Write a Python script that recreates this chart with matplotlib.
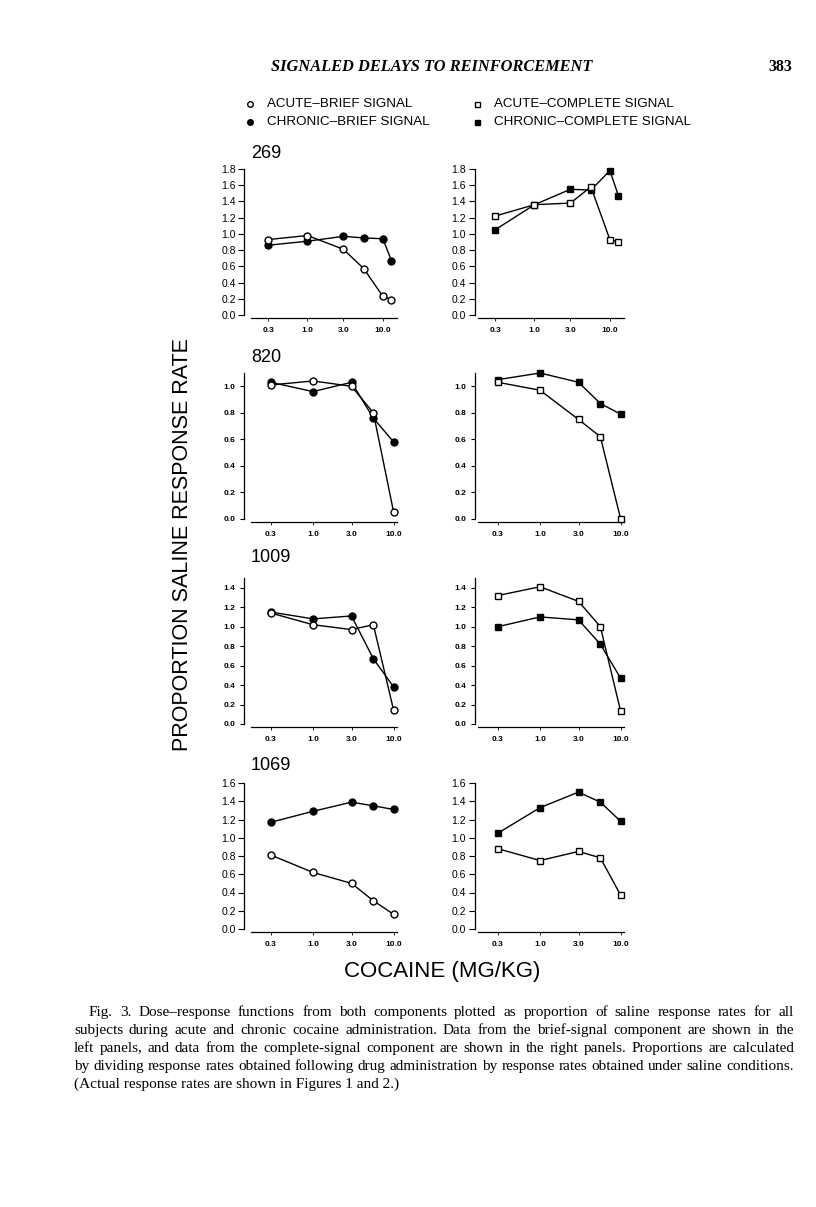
import numpy as np
import matplotlib.pyplot as plt
from matplotlib.lines import Line2D

# doses (mg/kg); subject 269 got an extra 13 mg/kg dose
dose_269 = [0.3, 1.0, 3.0, 5.6, 10.0, 13.0]
dose = [0.3, 1.0, 3.0, 5.6, 10.0]
subjects = ["269", "820", "1009", "1069"]

# left panels: brief-signal component
acute_brief_269 = [0.93, 0.98, 0.81, 0.57, 0.23, 0.19]
chronic_brief_269 = [0.86, 0.91, 0.97, 0.95, 0.94, 0.67]
acute_brief_820 = [1.01, 1.04, 1.00, 0.80, 0.05]
chronic_brief_820 = [1.03, 0.96, 1.03, 0.76, 0.58]
acute_brief_1009 = [1.14, 1.02, 0.97, 1.02, 0.14]
chronic_brief_1009 = [1.15, 1.08, 1.11, 0.67, 0.38]
acute_brief_1069 = [0.81, 0.62, 0.50, 0.31, 0.16]
chronic_brief_1069 = [1.17, 1.29, 1.39, 1.35, 1.31]

# right panels: complete-signal component
acute_complete_269 = [1.22, 1.36, 1.38, 1.58, 0.93, 0.90]
chronic_complete_269 = [1.05, 1.36, 1.55, 1.54, 1.78, 1.47]
acute_complete_820 = [1.03, 0.97, 0.75, 0.62, 0.00]
chronic_complete_820 = [1.05, 1.10, 1.03, 0.87, 0.79]
acute_complete_1009 = [1.32, 1.41, 1.26, 1.00, 0.13]
chronic_complete_1009 = [1.00, 1.10, 1.07, 0.82, 0.47]
acute_complete_1069 = [0.88, 0.75, 0.85, 0.78, 0.37]
chronic_complete_1069 = [1.05, 1.33, 1.50, 1.39, 1.18]

y_tops = [1.8, 1.1, 1.5, 1.6]
y_tick_max = [1.8, 1.0, 1.4, 1.6]
x_ticks = [0.3, 1.0, 3.0, 10.0]
x_ticklabels = ["0.3", "1.0", "3.0", "10.0"]

legend_labels = ["ACUTE\u2013BRIEF SIGNAL", "CHRONIC\u2013BRIEF SIGNAL",
                 "ACUTE\u2013COMPLETE SIGNAL", "CHRONIC\u2013COMPLETE SIGNAL"]

caption_lines = [
    "Fig. 3.  Dose\u2013response functions from both components plotted as proportion of saline response rates for all",
    "subjects during acute and chronic cocaine administration. Data from the brief-signal component are shown in the",
    "left panels, and data from the complete-signal component are shown in the right panels. Proportions are calculated",
    "by dividing response rates obtained following drug administration by response rates obtained under saline conditions.",
    "(Actual response rates are shown in Figures 1 and 2.)",
]

left_data = [
    (dose_269, acute_brief_269, chronic_brief_269),
    (dose, acute_brief_820, chronic_brief_820),
    (dose, acute_brief_1009, chronic_brief_1009),
    (dose, acute_brief_1069, chronic_brief_1069),
]
right_data = [
    (dose_269, acute_complete_269, chronic_complete_269),
    (dose, acute_complete_820, chronic_complete_820),
    (dose, acute_complete_1009, chronic_complete_1009),
    (dose, acute_complete_1069, chronic_complete_1069),
]

W, H = 816, 1207
fig = plt.figure(figsize=(W / 100, H / 100), dpi=100)
plt.rcParams['font.family'] = ['Liberation Sans', 'DejaVu Sans']


def fx(px):
    return px / W


def fy(py):
    return 1 - py / H


row_zero = [315, 519, 724, 929]   # pixel row of y = 0
panel_h = 146
xlims = [(0.178, 15.4), (0.17, 11.0), (0.17, 11.0), (0.17, 11.0)]
big_ticks = [True, False, False, True]


def draw_panel(left_px, row, data, marker, ms, spine_off):
    ax = fig.add_axes([fx(left_px), fy(row_zero[row]), 146 / W, panel_h / H])
    d, acute, chronic = data
    ax.plot(d, chronic, color='black', lw=1, marker=marker, ms=ms,
            mfc='black', mec='black', mew=1, zorder=3, clip_on=False)
    ax.plot(d, acute, color='black', lw=1, marker=marker, ms=ms,
            mfc='white', mec='black', mew=1, zorder=4, clip_on=False)
    ax.set_xscale('log')
    ax.set_xlim(*xlims[row])
    ax.set_ylim(0, y_tops[row])
    ax.set_xticks(x_ticks)
    ax.set_xticklabels(x_ticklabels)
    ax.minorticks_off()
    ax.set_yticks(np.round(np.arange(0, y_tick_max[row] + 0.01, 0.2), 1))
    ax.yaxis.set_major_formatter(plt.FormatStrFormatter('%.1f'))
    for s in ['top', 'right']:
        ax.spines[s].set_visible(False)
    ax.spines['left'].set_position(('outward', spine_off))
    ax.spines['bottom'].set_position(('outward', 2.5))
    ax.spines['left'].set_linewidth(0.9)
    ax.spines['bottom'].set_linewidth(0.9)
    if big_ticks[row]:
        ax.tick_params(axis='y', labelsize=7.5, length=4, width=0.8, pad=2)
    else:
        ax.tick_params(axis='y', labelsize=6, length=3, width=0.8, pad=3)
        for t in ax.get_yticklabels():
            t.set_fontweight('bold')
    ax.tick_params(axis='x', labelsize=6, length=2, width=0.6, pad=4)
    for t in ax.get_xticklabels():
        t.set_fontweight('bold')
    ax.patch.set_alpha(0)
    return ax


for r in range(4):
    draw_panel(251, r, left_data[r], 'o', 5, 5)
    draw_panel(478, r, right_data[r], 's', 4.3, 2.5)

# subject numbers
subj_y = [153, 357, 558, 765]
for s, yy in zip(subjects, subj_y):
    fig.text(fx(251), fy(yy), s, fontsize=13, ha='left', va='center')

# header
fig.text(fx(432), fy(67), "SIGNALED DELAYS TO REINFORCEMENT", ha='center', va='center',
         fontsize=11.8, fontstyle='italic', fontweight='bold', family='Liberation Serif')
fig.text(fx(792), fy(67), "383", ha='right', va='center', fontsize=11.5,
         fontweight='bold', family='Liberation Serif')

# legend
leg_pos = [(250, 104, 'o', 'white'), (250, 122, 'o', 'black'),
           (477, 104, 's', 'white'), (477, 122, 's', 'black')]
for (px, py, m, fc), lab in zip(leg_pos, legend_labels):
    fig.add_artist(Line2D([fx(px)], [fy(py)], transform=fig.transFigure, marker=m,
                          ms=4 if m == 'o' else 3.6, mfc=fc, mec='black', mew=1, ls='none'))
    fig.text(fx(px + 17), fy(py), lab, fontsize=9.6, ha='left', va='center')

# axis titles
fig.text(fx(183), fy(545), "PROPORTION SALINE RESPONSE RATE", rotation=90,
         ha='center', va='center', fontsize=15.5)
fig.text(fx(442), fy(972), "COCAINE (MG/KG)", ha='center', va='center', fontsize=16)

# justified caption
renderer = fig.canvas.get_renderer()
cap_y = [1016, 1034, 1052, 1070, 1088]   # baselines
cap_left, cap_right = 74, 794
probe = fig.text(0, 0, caption_lines[3], fontsize=10, family='Liberation Serif')
cap_fs = 10 * (cap_right - cap_left - 4) / probe.get_window_extent(renderer).width
probe.remove()
for i, (line, yy) in enumerate(zip(caption_lines, cap_y)):
    start = 89 if i == 0 else cap_left
    words = line.split()
    if i == len(caption_lines) - 1:
        fig.text(fx(start), fy(yy), line, fontsize=cap_fs, family='Liberation Serif',
                 ha='left', va='baseline')
        continue
    arts = [fig.text(0, fy(yy), w, fontsize=cap_fs, family='Liberation Serif',
                     ha='left', va='baseline') for w in words]
    widths = [a.get_window_extent(renderer).width for a in arts]
    gap = (cap_right - start - sum(widths)) / (len(words) - 1)
    x = start
    for a, wd in zip(arts, widths):
        a.set_x(fx(x))
        x += wd + gap

fig.savefig("out.png", dpi=100)
